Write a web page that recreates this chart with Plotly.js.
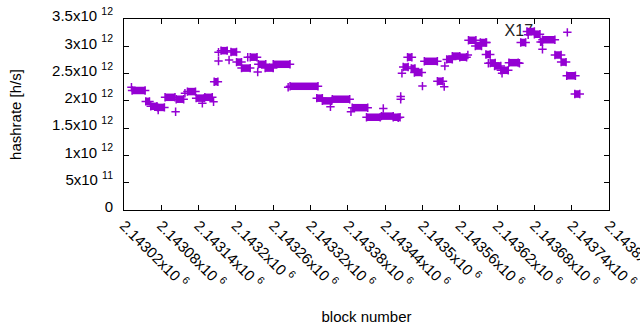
<!DOCTYPE html>
<html>
<head>
<meta charset="utf-8">
<script src="https://cdn.plot.ly/plotly-3.0.1.min.js"></script>
<style>html,body{margin:0;padding:0;background:#fff;}#chart{width:640px;height:330px;}</style>
</head>
<body>
<div id="chart"></div>
<script>
// Runs of blocks with a constant hashrate (first block, last block, hashrate in h/s)
var segStart = [2143033,2143055,2143063,2143074,2143086,2143104,2143122,2143136,2143150,2143165,
                2143176,2143192,2143201,2143209,2143223,2143236,2143247,2143260,2143287,2143330,
                2143339,2143355,2143387,2143410,2143434,2143453,2143469,2143476,2143482,2143487,
                2143503,2143524,2143539,2143548,2143560,2143574,2143585,2143593,2143602,2143609,
                2143616,2143626,2143639,2143658,2143668,2143680,2143690,2143693,2143713,2143723,
                2143732,2143745];
var segEnd   = [2143054,2143061,2143073,2143085,2143102,2143116,2143135,2143149,2143162,2143171,
                2143186,2143201,2143209,2143223,2143234,2143248,2143260,2143287,2143332,2143339,
                2143354,2143383,2143412,2143432,2143453,2143464,2143477,2143483,2143488,2143499,
                2143524,2143533,2143548,2143560,2143571,2143586,2143595,2143602,2143609,2143617,
                2143626,2143638,2143654,2143666,2143680,2143689,2143693,2143713,2143723,2143731,
                2143746,2143753];
var segRate  = [2.19e12,1.99e12,1.90e12,1.88e12,2.065e12,2.03e12,2.17e12,2.05e12,2.065e12,2.35e12,
                2.92e12,2.895e12,2.71e12,2.60e12,2.80e12,2.67e12,2.60e12,2.67e12,2.267e12,2.05e12,
                2.00e12,2.03e12,1.875e12,1.70e12,1.72e12,1.70e12,2.62e12,2.80e12,2.595e12,2.52e12,
                2.725e12,2.36e12,2.76e12,2.82e12,2.80e12,3.11e12,3.005e12,3.07e12,2.85e12,2.695e12,
                2.64e12,2.56e12,2.70e12,3.07e12,3.27e12,3.22e12,3.08e12,3.12e12,2.84e12,2.71e12,
                2.46e12,2.125e12];
// Single blocks off the runs
var ptBlock = [2143032,2143075,2143103,2143118,2143146,2143164,2143172,2143172,2143189,2143219,
               2143235,2143284,2143352,2143385,2143437,2143461,2143465,2143465,2143467,2143500,
               2143535,2143536,2143573,2143606,2143603,2143628,2143656,2143670,2143693,2143733];
var ptRate  = [2.25e12,1.83e12,1.80e12,2.14e12,1.955e12,1.985e12,2.73e12,2.89e12,2.75e12,2.80e12,
               2.53e12,2.25e12,1.89e12,1.80e12,1.86e12,1.69e12,2.08e12,2.03e12,2.505e12,2.27e12,
               2.26e12,2.64e12,2.84e12,2.69e12,3.07e12,2.505e12,2.69e12,3.21e12,2.945e12,3.255e12];
// Axis ticks
var xTickVals = [2143020,2143080,2143140,2143200,2143260,2143320,2143380,2143440,2143500,2143560,2143620,2143680,2143740,2143800];
var xTickMant = ["2.14302","2.14308","2.14314","2.1432","2.14326","2.14332","2.14338","2.14344","2.1435","2.14356","2.14362","2.14368","2.14374","2.1438"];
var yTickVals = [0,5e11,1e12,1.5e12,2e12,2.5e12,3e12,3.5e12];
var yTickMant = ["0","5","1","1.5","2","2.5","3","3.5"];
var yTickExp  = ["","11","12","12","12","12","12","12"];

var xTickText = xTickMant.map(function(m){ return m + "x10 <sup>6</sup>"; });
var yTickText = yTickMant.map(function(m,i){ return yTickExp[i] ? m + "x10 <sup>" + yTickExp[i] + "</sup>" : m; });

var lineX = [], lineY = [], mkX = [], mkY = [];
for (var i = 0; i < segStart.length; i++) {
  lineX.push(segStart[i], segEnd[i], null);
  lineY.push(segRate[i], segRate[i], null);
  mkX.push(segStart[i], segEnd[i]);
  mkY.push(segRate[i], segRate[i]);
}
for (var j = 0; j < ptBlock.length; j++) { mkX.push(ptBlock[j]); mkY.push(ptRate[j]); }

var purple = '#9400d3';
var font = {family: 'Liberation Sans, Arial, sans-serif', size: 15, color: '#000'};

var traces = [
  {x: [2143655], y: [3.267e12], mode: 'text', text: ['X17'], textposition: 'middle center',
   textfont: {family: font.family, size: 16, color: '#222'}, hoverinfo: 'skip'},
  {x: lineX, y: lineY, mode: 'lines', line: {color: purple, width: 7.5}, connectgaps: false, hoverinfo: 'skip'},
  {x: mkX, y: mkY, mode: 'markers',
   marker: {symbol: 'cross-thin', size: 6, color: purple, line: {color: purple, width: 1.5}}}
];

var layout = {
  width: 640, height: 330,
  margin: {l: 124, r: 31, t: 19, b: 120, pad: 0},
  paper_bgcolor: '#fff', plot_bgcolor: '#fff',
  showlegend: false,
  font: font,
  xaxis: {
    range: [2143020, 2143800], tickmode: 'array', tickvals: xTickVals, ticktext: xTickText,
    tickangle: 45, ticks: 'inside', ticklen: 5, tickcolor: '#000', tickwidth: 1,
    showline: true, linecolor: '#000', linewidth: 1, mirror: 'ticks',
    showgrid: false, zeroline: false, tickfont: font, ticklabeloverflow: 'allow',
    title: {text: 'block number', font: font, standoff: 20}
  },
  yaxis: {
    range: [0, 3.5e12], tickmode: 'array', tickvals: yTickVals, ticktext: yTickText,
    ticks: 'inside', ticklen: 5, tickcolor: '#000', tickwidth: 1,
    showline: true, linecolor: '#000', linewidth: 1, mirror: 'ticks',
    showgrid: false, zeroline: false, tickfont: font, ticklabelstandoff: 7, ticklabelshift: -3,
    ticklabeloverflow: 'allow',
    title: {text: 'hashrate [h/s]', font: font, standoff: 26}
  }
};

Plotly.newPlot('chart', traces, layout, {displayModeBar: false, staticPlot: true});
</script>
</body>
</html>
